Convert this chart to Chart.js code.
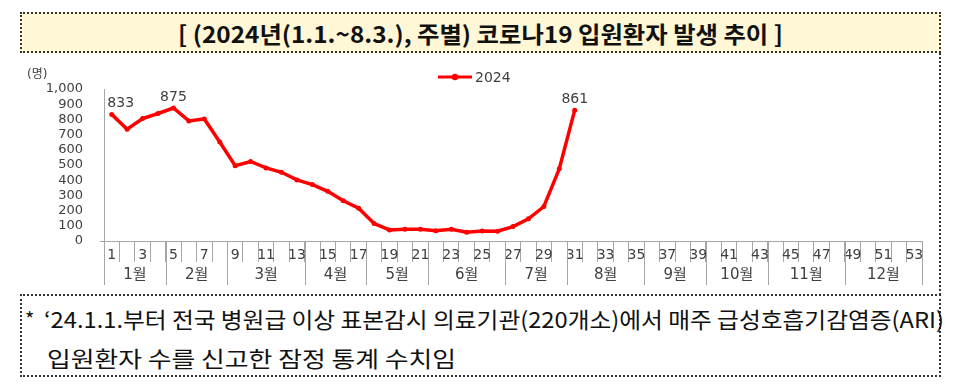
<!DOCTYPE html>
<html>
<head>
<meta charset="utf-8">
<script src="https://cdn.jsdelivr.net/npm/chart.js@4"></script>
<style>
  body { margin: 0; width: 960px; height: 391px; position: relative; background: #fff; overflow: hidden; }
  .box { position: absolute; box-sizing: border-box; border: 2px dotted #333; }
  .txt { position: absolute; white-space: nowrap; font-family: "Noto Sans CJK KR", sans-serif; color: #111; transform-origin: left center; }
  #chart { position: absolute; left: 0; top: 0; z-index: 2; }
</style>
</head>
<body>
<div class="box" style="left:20px;top:12px;width:921px;height:41px;background:#fff7d6;"></div>
<div style="position:absolute;left:939px;top:53px;height:242px;border-left:2px dotted #333;"></div>
<div class="box" style="left:20px;top:294px;width:921px;height:83px;"></div>

<div class="txt" id="title" data-w="605" style="left:178px;top:18px;font-size:23px;font-weight:700;line-height:30px;">[ (2024년(1.1.~8.3.), 주별) 코로나19 입원환자 발생 추이 ]</div>
<div class="txt" style="left:25px;top:306px;font-size:20px;line-height:26px;">*</div>
<div class="txt" id="note1" data-w="900" style="left:44px;top:304px;font-size:22px;line-height:28px;">‘24.1.1.부터 전국 병원급 이상 표본감시 의료기관(220개소)에서 매주 급성호흡기감염증(ARI)</div>
<div class="txt" id="note2" data-w="409" style="left:47px;top:343px;font-size:22px;line-height:28px;">입원환자 수를 신고한 잠정 통계 수치임</div>

<canvas id="chart" width="960" height="391"></canvas>

<script>
// weeks of 2024
const weeks = ['1','2','3','4','5','6','7','8','9','10','11','12','13','14','15','16','17','18','19','20',
  '21','22','23','24','25','26','27','28','29','30','31','32','33','34','35','36','37','38','39','40',
  '41','42','43','44','45','46','47','48','49','50','51','52','53'];
const cases2024 = [833, 735, 806, 839, 875, 790, 803, 651, 495, 523, 481, 452, 402, 371, 327, 265, 216,
  115, 73, 77, 77, 68, 77, 57, 66, 64, 95, 146, 227, 475, 861];
const months = ['1월','2월','3월','4월','5월','6월','7월','8월','9월','10월','11월','12월'];
const monthEndWeek = [4, 8, 13, 17, 21, 26, 30, 35, 39, 43, 48, 53];
const labeledIdx = [0, 4, 30];

const gray = '#a6a6a6';
const textColor = '#404040';
const numFont = '"DejaVu Sans", "Noto Sans CJK KR", sans-serif';

// squeeze the korean text boxes to the widths of the original
function fitText() {
  document.querySelectorAll('.txt[data-w]').forEach(el => {
    el.style.transform = 'none';
    const w = el.getBoundingClientRect().width;
    el.style.transform = 'scaleX(' + (parseFloat(el.dataset.w) / w) + ')';
  });
}
fitText();
document.fonts.ready.then(fitText);

const extras = {
  id: 'extras',
  afterDraw(chart) {
    const ctx = chart.ctx;
    const x = chart.scales.x;
    const area = chart.chartArea;
    const half = (x.getPixelForValue(1) - x.getPixelForValue(0)) / 2;
    const edge = w => w === 0 ? area.left : x.getPixelForValue(w - 1) + half;

    ctx.save();
    ctx.strokeStyle = gray;
    ctx.lineWidth = 1;
    // month separators
    [0].concat(monthEndWeek).forEach(w => {
      const px = Math.round(edge(w)) + 0.5;
      ctx.beginPath();
      ctx.moveTo(px, area.bottom);
      ctx.lineTo(px, area.bottom + 44);
      ctx.stroke();
    });
    ctx.beginPath();
    ctx.moveTo(area.left - 4, area.bottom + 0.5);
    ctx.lineTo(area.left, area.bottom + 0.5);
    ctx.stroke();

    // month labels
    ctx.fillStyle = textColor;
    ctx.font = '15px ' + numFont;
    ctx.textAlign = 'center';
    ctx.textBaseline = 'middle';
    let prev = 0;
    months.forEach((m, i) => {
      const cx = (edge(prev) + edge(monthEndWeek[i])) / 2;
      ctx.fillText(m, cx, area.bottom + 34);
      prev = monthEndWeek[i];
    });

    // unit
    ctx.font = '12px ' + numFont;
    ctx.textAlign = 'left';
    ctx.fillText('(명)', 27, 75);

    // value labels
    const meta = chart.getDatasetMeta(0);
    ctx.font = '14px ' + numFont;
    ctx.textAlign = 'center';
    labeledIdx.forEach(i => {
      const p = meta.data[i];
      const dx = i === 0 ? 9 : 0;
      ctx.fillText(String(cases2024[i]), p.x + dx, p.y - 11);
    });

    // legend
    const ds = chart.data.datasets[0];
    ctx.strokeStyle = ds.borderColor;
    ctx.lineWidth = 3;
    ctx.beginPath();
    ctx.moveTo(438, 77);
    ctx.lineTo(472, 77);
    ctx.stroke();
    ctx.fillStyle = ds.borderColor;
    ctx.beginPath();
    ctx.arc(455, 77, 3.2, 0, Math.PI * 2);
    ctx.fill();
    ctx.fillStyle = textColor;
    ctx.textAlign = 'left';
    ctx.fillText(ds.label, 475, 78);
    ctx.restore();
  }
};

new Chart(document.getElementById('chart'), {
  type: 'line',
  data: {
    labels: weeks,
    datasets: [{
      label: '2024',
      data: cases2024,
      borderColor: '#ff0000',
      backgroundColor: '#ff0000',
      borderWidth: 3.5,
      pointRadius: 2.5,
      pointBackgroundColor: '#ff0000',
      pointBorderWidth: 0,
      tension: 0
    }]
  },
  options: {
    responsive: false,
    animation: false,
    layout: { padding: { left: 0, top: 89, right: 38, bottom: 106 } },
    plugins: { legend: { display: false }, tooltip: { enabled: false } },
    scales: {
      x: {
        offset: true,
        afterFit: s => { s.height = 44; },
        grid: { offset: true, drawOnChartArea: true, display: true, drawTicks: true, tickLength: 21,
          color: 'rgba(0,0,0,0)', tickColor: gray, lineWidth: 1 },
        border: { display: true, color: gray, width: 1 },
        ticks: {
          autoSkip: false, maxRotation: 0, padding: -15, color: textColor,
          font: { family: numFont, size: 14 },
          callback: (v, i) => i % 2 === 0 ? weeks[i] : ''
        }
      },
      y: {
        min: 0, max: 1000,
        afterFit: s => { s.width = 104; },
        grid: { display: false, drawTicks: false },
        border: { display: true, color: gray, width: 1 },
        ticks: {
          stepSize: 100, autoSkip: false, padding: 21, color: textColor,
          font: { family: numFont, size: 13 },
          callback: v => v.toLocaleString('en-US')
        }
      }
    }
  },
  plugins: [extras]
});
</script>
</body>
</html>
